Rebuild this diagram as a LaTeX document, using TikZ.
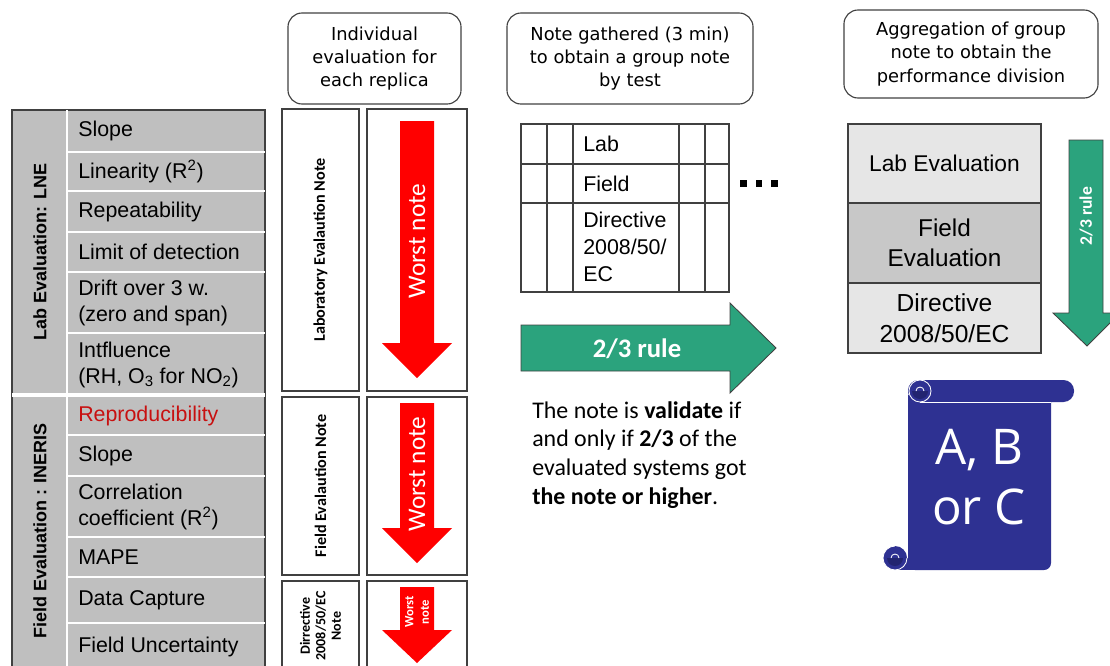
\documentclass[tikz,border=0pt]{standalone}
\usepackage{fontspec}
\setmainfont{Liberation Sans}
\newfontfamily\headfont{DejaVu Sans}
\newfontfamily\calfont{Carlito}
\newfontfamily\scrollfont{Open Sans}
\definecolor{cellgray}{RGB}{191,191,191}
\definecolor{edgegray}{RGB}{64,64,64}
\definecolor{repred}{RGB}{200,16,16}
\definecolor{worstred}{RGB}{255,0,0}
\definecolor{rulegreen}{RGB}{43,163,125}
\definecolor{lightcell}{RGB}{230,230,230}
\definecolor{darkcell}{RGB}{200,200,200}
\definecolor{scrollblue}{RGB}{46,49,146}
\definecolor{scrolldark}{RGB}{34,36,112}
\tikzset{
  item/.style={anchor=west, align=left, inner sep=0pt, font=\fontsize{15.2}{18}\selectfont},
  sectlabel/.style={rotate=90, inner sep=0pt, font=\bfseries\fontsize{12.8}{15}\selectfont},
  headbox/.style={draw=edgegray, line width=0.8pt, rounded corners=10pt, align=center, inner sep=0pt,
    font=\headfont\fontsize{12.7}{16.5}\selectfont},
  notebox/.style={draw=edgegray, line width=0.9pt, inner sep=0pt, align=center},
  notetext/.style={font=\calfont\bfseries\fontsize{11.5}{12}\selectfont},
  worsttext/.style={rotate=90, text=white, inner sep=0pt, align=center, font=\calfont\fontsize{18}{19}\selectfont},
  rulearrow/.style={fill=rulegreen, draw=edgegray, line width=0.6pt},
  ruletext/.style={text=white, inner sep=0pt, font=\calfont\bfseries\fontsize{19}{22}\selectfont},
  aggcell/.style={draw=edgegray, line width=0.8pt, minimum width=4.825cm, inner sep=0pt, align=center},
}
\begin{document}
\begin{tikzpicture}[x=0.025cm, y=-0.025cm]
  \useasboundingbox (0,0) rectangle (1110,665);
  \clip (0,0) rectangle (1110,665);

  % criteria table
  \fill[cellgray] (12,110) rectangle (265,680);
  \draw[edgegray, line width=1pt] (12,680) -- (12,110) -- (265,110) -- (265,680);
  \draw[white, line width=1.4pt] (67,110) -- (67,680);
  \foreach \y in {152,191,232,272,333,435,476,537,623}
    \draw[white, line width=1pt] (67,\y) -- (265,\y);
  \draw[white, line width=2.2pt] (12,395) -- (265,395);
  \draw[white, line width=2pt] (67,577) -- (265,577);
  \node[sectlabel] (labsec) at (40,252) {Lab Evaluation: LNE};
  \node[sectlabel] (fieldsec) at (40,531) {Field Evaluation : INERIS};
  \foreach \nm/\yy/\txt in {slope/131/Slope, lin/171.5/{Linearity (R\textsuperscript{2})},
      rep/211.5/Repeatability, lod/252/Limit of detection,
      drift/303/{Drift over 3 w.\\(zero and span)},
      infl/365/{Intfluence\\(RH, O\textsubscript{3} for NO\textsubscript{2})},
      slopef/455.5/Slope, corr/507/{Correlation\\coefficient (R\textsuperscript{2})},
      mape/557/MAPE, dcap/600.5/Data Capture, unc/647/Field Uncertainty}
    \node[item] (\nm) at (78,\yy) {\txt};
  \node[item, text=repred] (repro) at (78,416) {Reproducibility};

  % individual evaluation
  \node[headbox, minimum width=4.325cm, minimum height=2.275cm] (indiv) at (374.5,58.5)
    {Individual\\evaluation for\\each replica};
  \node[notebox, notetext, rotate=90, minimum width=7.05cm, minimum height=1.925cm] (labnote)
    at (320.5,250) {Laboratory Evalaution Note};
  \node[notebox, notetext, rotate=90, minimum width=4.45cm, minimum height=1.925cm] (fieldnote)
    at (320.5,486) {Field Evalaution Note};
  \node[notebox, rotate=90, minimum width=2.25cm, minimum height=1.925cm,
    font=\calfont\bfseries\fontsize{10}{11}\selectfont] (dirnote)
    at (320.5,626) {Dirrective\\2008/50/EC\\Note};
  \node[notebox, minimum width=2.5cm, minimum height=7.05cm] (labworst) at (417,250) {};
  \node[notebox, minimum width=2.5cm, minimum height=4.45cm] (fieldworst) at (417,486) {};
  \node[notebox, minimum width=2.5cm, minimum height=2.25cm] (dirworst) at (417,626) {};
  \foreach \top/\hs/\tip in {121/343/378, 403/528/563, 587/630/663}
    \fill[worstred] (400,\top) -- (434,\top) -- (434,\hs) -- (452,\hs) -- (417,\tip)
      -- (382,\hs) -- (400,\hs) -- cycle;
  \node[worsttext] (worst1) at (417,241) {Worst note};
  \node[worsttext] (worst2) at (417,474) {Worst note};
  \node[worsttext, font=\calfont\bfseries\fontsize{9}{11}\selectfont] (worst3) at (417,612) {Worst\\note};

  % group note
  \node[headbox, minimum width=6.15cm, minimum height=2.275cm] (gather) at (630,58.5)
    {Note gathered (3 min)\\to obtain a group note\\by test};
  \draw[edgegray, line width=0.8pt] (521,124) rectangle (729,292);
  \foreach \x in {547,573,679,705}
    \draw[edgegray, line width=0.8pt] (\x,124) -- (\x,292);
  \foreach \y in {164,203}
    \draw[edgegray, line width=0.8pt] (521,\y) -- (729,\y);
  \node[item] (glab) at (583,144) {Lab};
  \node[item] (gfield) at (583,183.5) {Field};
  \node[item, font=\fontsize{15.2}{19}\selectfont] (gdir) at (583,247) {Directive\\2008/50/\\EC};
  \foreach \x in {740,755.5,771}
    \fill (\x,180) rectangle ++(6.5,6.5);
  \draw[rulearrow] (521,325) -- (730,325) -- (730,303) -- (776,348) -- (730,393)
    -- (730,371) -- (521,371) -- cycle;
  \node[ruletext] (rule1) at (637,349) {2/3 rule};
  \node[anchor=north west, align=left, inner sep=0pt, font=\calfont\fontsize{17}{20.5}\selectfont]
    (rulenote) at (532,401) {The note is \textbf{validate} if\\and only if \textbf{2/3} of the\\
    evaluated systems got\\\textbf{the note or higher}.};

  % aggregation
  \node[headbox, minimum width=6.35cm, minimum height=2.2cm] (aggr) at (971,54)
    {Aggregation of group\\note to obtain the\\performance division};
  \node[aggcell, fill=lightcell, minimum height=1.975cm, font=\fontsize{16.2}{20}\selectfont]
    (agglab) at (944.5,163.5) {Lab Evaluation};
  \node[aggcell, fill=darkcell, minimum height=2cm, font=\fontsize{17.3}{21}\selectfont]
    (aggfield) at (944.5,243) {Field\\Evaluation};
  \node[aggcell, fill=lightcell, minimum height=1.75cm, font=\fontsize{17.5}{22}\selectfont]
    (aggdir) at (944.5,318) {Directive\\2008/50/EC};
  \draw[rulearrow] (1069,140) -- (1103,140) -- (1103,313) -- (1120,313) -- (1087,346)
    -- (1053,313) -- (1069,313) -- cycle;
  \node[ruletext, rotate=90, font=\calfont\bfseries\fontsize{12.5}{14}\selectfont] (rule2) at (1086,216) {2/3 rule};

  % scroll
  \fill[scrollblue, rounded corners=5pt] (908,395) rectangle (1051,570);
  \fill[scrollblue] (908,395) rectangle (930,570);
  \fill[scrollblue] (1030,395) rectangle (1051,420);
  \fill[scrollblue] (895,558) rectangle (920,570);
  \fill[scrollblue, rounded corners=7.5pt] (908,380) rectangle (1074,402);
  \draw[white, line width=0.6pt] (920,402) -- (1051,402);
  \fill[scrollblue] (920,391) circle[radius=0.275cm];
  \fill[scrolldark] (920,391) ++(0.2cm,0) arc[start angle=0, end angle=-180, radius=0.2cm] -- cycle;
  \draw[white, line width=0.6pt] (920,391) circle[radius=0.275cm];
  \draw[white, line width=0.6pt] (920,391) ++(0.1cm,0) arc[start angle=0, end angle=180, radius=0.1cm];
  \fill[scrollblue] (895,558) circle[radius=0.3cm];
  \fill[scrolldark] (895,558) ++(0.2cm,0) arc[start angle=0, end angle=-180, radius=0.2cm] -- cycle;
  \draw[white, line width=0.6pt] (895,558) ++(0.3cm,0) arc[start angle=0, end angle=-270, radius=0.3cm];
  \draw[white, line width=0.6pt] (895,558) ++(0.1cm,0) arc[start angle=0, end angle=180, radius=0.1cm];
  \node[text=white, align=center, inner sep=0pt, font=\scrollfont\fontsize{35}{42.5}\selectfont]
    (grade) at (979,477) {A, B\\or C};
\end{tikzpicture}
\end{document}
